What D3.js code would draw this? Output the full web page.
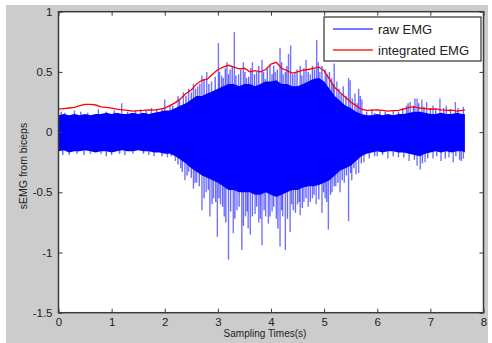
<!DOCTYPE html>
<html><head><meta charset="utf-8">
<script src="https://cdnjs.cloudflare.com/ajax/libs/d3/7.8.5/d3.min.js"></script>
<style>html,body{margin:0;padding:0;background:#fff;}svg{display:block;}</style>
</head><body>
<script>
// ---------- data ----------
const xTicks = [0,1,2,3,4,5,6,7,8];
const yTicks = [1,0.5,0,-0.5,-1,-1.5];
const yTickLabels = ["1","0.5","0","-0.5","-1","-1.5"];
const seriesNames = ["raw EMG","integrated EMG"];

// integrated EMG (red)
const iemgT = [0,0.1,0.2,0.3,0.4,0.5,0.6,0.7,0.8,0.9,1.0,1.1,1.2,1.3,1.4,1.5,1.6,1.7,1.8,1.9,2.0,2.1,2.2,2.3,2.4,2.5,2.6,2.7,2.8,2.9,3.0,3.1,3.2,3.3,3.4,3.5,3.6,3.7,3.8,3.9,4.0,4.1,4.2,4.3,4.4,4.5,4.6,4.7,4.8,4.9,5.0,5.1,5.2,5.3,5.4,5.5,5.6,5.7,5.8,5.9,6.0,6.1,6.2,6.3,6.4,6.5,6.6,6.7,6.8,6.9,7.0,7.1,7.2,7.3,7.4,7.5,7.6,7.65];
const iemgV = [0.19,0.195,0.20,0.205,0.22,0.23,0.23,0.225,0.21,0.205,0.20,0.19,0.185,0.18,0.175,0.178,0.18,0.185,0.182,0.19,0.20,0.22,0.245,0.28,0.32,0.35,0.40,0.43,0.44,0.48,0.52,0.54,0.555,0.54,0.525,0.53,0.50,0.51,0.50,0.52,0.565,0.58,0.53,0.51,0.49,0.50,0.515,0.52,0.53,0.54,0.51,0.44,0.37,0.33,0.29,0.25,0.22,0.19,0.18,0.183,0.185,0.18,0.175,0.178,0.18,0.19,0.205,0.21,0.20,0.195,0.19,0.192,0.185,0.18,0.182,0.175,0.18,0.185];

// raw EMG: dense core envelope (upper / lower) sampled every 0.1 s
const rawT = iemgT;
const rawUpper = [0.14,0.15,0.14,0.15,0.14,0.15,0.14,0.15,0.15,0.16,0.15,0.16,0.15,0.15,0.16,0.15,0.16,0.15,0.16,0.17,0.18,0.18,0.20,0.22,0.24,0.27,0.30,0.30,0.32,0.34,0.36,0.38,0.40,0.40,0.38,0.40,0.40,0.38,0.40,0.42,0.42,0.43,0.40,0.40,0.38,0.38,0.40,0.42,0.44,0.45,0.42,0.36,0.30,0.26,0.22,0.20,0.17,0.15,0.14,0.14,0.15,0.14,0.15,0.14,0.15,0.15,0.16,0.17,0.17,0.16,0.15,0.15,0.16,0.15,0.15,0.16,0.15,0.15];
const rawLower = [-0.16,-0.15,-0.17,-0.16,-0.16,-0.15,-0.16,-0.17,-0.16,-0.16,-0.17,-0.16,-0.15,-0.16,-0.16,-0.15,-0.16,-0.16,-0.17,-0.17,-0.18,-0.18,-0.20,-0.23,-0.26,-0.30,-0.33,-0.36,-0.38,-0.40,-0.42,-0.45,-0.48,-0.48,-0.50,-0.50,-0.50,-0.52,-0.52,-0.50,-0.52,-0.54,-0.52,-0.50,-0.48,-0.48,-0.46,-0.45,-0.45,-0.44,-0.42,-0.40,-0.36,-0.32,-0.30,-0.28,-0.24,-0.20,-0.18,-0.17,-0.16,-0.17,-0.16,-0.16,-0.17,-0.17,-0.18,-0.19,-0.20,-0.18,-0.17,-0.16,-0.17,-0.16,-0.17,-0.16,-0.16,-0.17];

// raw EMG: large individual spikes beyond the dense core
const spikeT = [0.3,0.75,1.19,1.55,1.75,2.0,2.1,2.25,2.35,2.45,2.54,2.62,
  2.70,2.79,2.88,3.01,3.07,3.17,3.23,3.31,3.39,3.48,3.54,3.65,3.73,3.83,3.89,3.98,4.08,4.17,4.23,4.33,4.37,4.45,4.55,4.66,4.74,4.86,4.92,5.02,5.14,5.19,5.24,5.36,
  5.46,5.49,5.58,5.65,5.71,5.9,6.05,6.3,6.55,6.62,6.71,6.75,6.84,6.93,7.05,7.18,7.3,7.47,7.62,
  0.2,0.6,1.0,1.4,1.8,2.05,2.2,2.3,2.38,2.45,2.54,2.6,2.7,2.78,2.85,2.92,2.99,3.05,3.12,3.2,3.29,3.36,3.45,3.52,3.57,3.61,3.7,3.77,3.83,3.9,3.95,4.02,4.1,4.17,4.22,4.27,4.36,4.42,4.5,4.55,4.62,4.70,4.78,4.85,4.96,5.02,5.08,5.15,5.22,5.3,5.38,5.46,5.52,5.6,5.65,5.75,5.85,6.0,6.2,6.4,6.6,6.75,6.81,6.9,7.05,7.2,7.35,7.43,7.55,7.62];
const spikeV = [0.18,0.19,0.24,0.19,0.20,0.27,0.23,0.30,0.33,0.36,0.40,0.38,
  0.47,0.50,0.42,0.74,0.47,0.58,0.52,0.83,0.48,0.58,0.45,0.58,0.50,0.60,0.44,0.56,0.50,0.70,0.48,0.65,0.72,0.50,0.55,0.60,0.48,0.765,0.50,0.52,0.45,0.57,0.42,0.38,
  0.45,0.43,0.32,0.36,0.27,0.19,0.18,0.18,0.22,0.25,0.28,0.28,0.27,0.25,0.22,0.28,0.22,0.25,0.21,
  -0.19,-0.18,-0.19,-0.18,-0.20,-0.21,-0.24,-0.30,-0.40,-0.33,-0.47,-0.42,-0.65,-0.50,-0.70,-0.55,-0.87,-0.60,-0.70,-1.06,-0.84,-0.65,-0.98,-0.70,-0.80,-0.85,-0.68,-0.75,-0.94,-0.70,-0.76,-0.66,-0.72,-0.95,-0.70,-0.98,-0.83,-0.65,-0.60,-0.69,-0.58,-0.62,-0.55,-0.60,-0.67,-0.55,-0.81,-0.50,-0.45,-0.50,-0.42,-0.74,-0.40,-0.35,-0.34,-0.25,-0.22,-0.20,-0.22,-0.21,-0.24,-0.28,-0.31,-0.25,-0.22,-0.24,-0.21,-0.25,-0.23,-0.22];

// raw EMG: smaller spikes that roughen the edge of the core
const minorT = [0.05,0.12,0.42,0.55,0.9,1.05,1.3,1.45,1.65,1.85,1.95,2.15,2.28,2.4,2.5,2.58,2.66,2.74,2.83,2.95,3.03,3.10,3.14,3.20,3.27,3.34,3.43,3.51,3.58,3.62,3.69,3.77,3.86,3.93,4.02,4.05,4.12,4.20,4.27,4.30,4.41,4.49,4.58,4.62,4.70,4.78,4.82,4.89,4.96,5.05,5.10,5.17,5.28,5.32,5.41,5.53,5.62,5.68,5.8,5.95,6.15,6.4,6.48,6.58,6.68,6.78,6.88,7.0,7.1,7.25,7.38,7.52,
  0.08,0.35,0.48,0.8,0.9,1.15,1.25,1.6,1.7,1.95,2.12,2.25,2.33,2.42,2.5,2.57,2.65,2.74,2.82,2.89,2.96,3.02,3.09,3.15,3.24,3.32,3.40,3.48,3.55,3.65,3.73,3.80,3.87,3.98,4.05,4.13,4.20,4.31,4.39,4.46,4.53,4.59,4.66,4.74,4.81,4.90,4.99,5.05,5.12,5.19,5.26,5.34,5.42,5.5,5.56,5.7,5.95,6.1,6.3,6.5,6.7,6.85,6.95,7.12,7.28,7.48,7.58];
const minorV = [0.17,0.16,0.17,0.16,0.17,0.18,0.17,0.18,0.18,0.19,0.20,0.22,0.27,0.30,0.33,0.36,0.40,0.44,0.40,0.46,0.50,0.45,0.53,0.48,0.55,0.47,0.52,0.50,0.46,0.53,0.48,0.55,0.50,0.53,0.48,0.55,0.52,0.58,0.50,0.55,0.48,0.52,0.47,0.53,0.50,0.55,0.52,0.58,0.55,0.48,0.50,0.40,0.36,0.32,0.30,0.28,0.24,0.30,0.17,0.16,0.17,0.17,0.20,0.24,0.22,0.24,0.21,0.20,0.19,0.20,0.19,0.20,
  -0.19,-0.18,-0.19,-0.18,-0.20,-0.18,-0.19,-0.18,-0.19,-0.20,-0.20,-0.27,-0.33,-0.36,-0.38,-0.42,-0.45,-0.55,-0.48,-0.60,-0.58,-0.55,-0.62,-0.75,-0.66,-0.72,-0.62,-0.78,-0.66,-0.70,-0.62,-0.72,-0.65,-0.70,-0.62,-0.80,-0.65,-0.72,-0.60,-0.67,-0.58,-0.63,-0.55,-0.58,-0.52,-0.56,-0.50,-0.58,-0.52,-0.45,-0.42,-0.40,-0.36,-0.34,-0.30,-0.26,-0.20,-0.19,-0.20,-0.21,-0.23,-0.26,-0.22,-0.20,-0.22,-0.20,-0.24];

// ---------- drawing ----------
const W = 492, H = 343;
const svg = d3.select("body").append("svg").attr("width", W).attr("height", H);
const font = "'Liberation Sans', Arial, sans-serif";

svg.append("rect").attr("x",6).attr("y",5).attr("width",482).attr("height",338).attr("fill","#cccccc");

const x = d3.scaleLinear().domain([0,8]).range([58.5,483.5]);
const y = d3.scaleLinear().domain([-1.5,1]).range([312.7,11.7]);

svg.append("rect").attr("x",x(0)).attr("y",y(1)).attr("width",x(8)-x(0)).attr("height",y(-1.5)-y(1)).attr("fill","#fff");

const plot = svg.append("g");

function drawSpikes(ts, vs, cls, op, w){
  plot.selectAll("line."+cls).data(ts.map((t,i)=>({t, v: vs[i]}))).join("line")
    .attr("class",cls)
    .attr("x1", d=>x(d.t)).attr("x2", d=>x(d.t))
    .attr("y1", y(0)).attr("y2", d=>y(d.v))
    .attr("stroke","#0000ff").attr("stroke-opacity",op).attr("stroke-width",w);
}
drawSpikes(spikeT, spikeV, "spike", 0.55, 1.4);
drawSpikes(minorT, minorV, "minor", 0.6, 1.4);

// dense core
const core = rawT.map((t,i)=>({t, hi: rawUpper[i], lo: rawLower[i]}));
plot.append("path").datum(core)
  .attr("d", d3.area().x(d=>x(d.t)).y0(d=>y(d.lo)).y1(d=>y(d.hi)))
  .attr("fill","#0000ff");

// integrated EMG
plot.append("path").datum(iemgT.map((t,i)=>({t, v: iemgV[i]})))
  .attr("d", d3.line().x(d=>x(d.t)).y(d=>y(d.v)))
  .attr("fill","none").attr("stroke","#ff0000").attr("stroke-width",1.3);

// axes
const axisColor = "#3a3a3a";
function styleAxis(g, showLabels){
  g.select(".domain").remove();
  g.selectAll(".tick line").attr("stroke",axisColor).attr("stroke-width",1);
  g.selectAll(".tick text").attr("fill","#222").style("font-family",font).style("font-size","11.5px");
  if(!showLabels) g.selectAll(".tick text").remove();
}
svg.append("g").attr("transform",`translate(0,${y(-1.5)})`)
  .call(d3.axisBottom(x).tickValues(xTicks).tickSize(-4).tickPadding(5).tickFormat(d3.format("d")))
  .call(g=>styleAxis(g,true));
svg.append("g").attr("transform",`translate(0,${y(1)})`)
  .call(d3.axisTop(x).tickValues(xTicks).tickSize(-4))
  .call(g=>styleAxis(g,false));
svg.append("g").attr("transform",`translate(${x(0)},0)`)
  .call(d3.axisLeft(y).tickValues(yTicks).tickSize(-4).tickPadding(6).tickFormat((d,i)=>yTickLabels[i]))
  .call(g=>styleAxis(g,true));
svg.append("g").attr("transform",`translate(${x(8)},0)`)
  .call(d3.axisRight(y).tickValues(yTicks).tickSize(-4))
  .call(g=>styleAxis(g,false));

svg.append("rect").attr("x",x(0)).attr("y",y(1)).attr("width",x(8)-x(0)).attr("height",y(-1.5)-y(1))
  .attr("fill","none").attr("stroke",axisColor).attr("stroke-width",1.5);

// axis titles
svg.append("text").attr("x",265).attr("y",337).attr("text-anchor","middle")
  .style("font-family",font).style("font-size","10px").attr("fill","#222").text("Sampling Times(s)");
svg.append("text").attr("transform","translate(27,166) rotate(-90)").attr("text-anchor","middle")
  .style("font-family",font).style("font-size","10.5px").attr("fill","#222").text("sEMG from biceps");

// legend
const lg = svg.append("g");
lg.append("rect").attr("x",324).attr("y",17).attr("width",157).attr("height",44)
  .attr("fill","#fff").attr("stroke","#333").attr("stroke-width",1.2);
const legColors = ["#0000ff","#ff0000"];
const legY = [29,50];
seriesNames.forEach((n,i)=>{
  lg.append("line").attr("x1",333).attr("x2",373).attr("y1",legY[i]).attr("y2",legY[i])
    .attr("stroke",legColors[i]).attr("stroke-width",1.4).attr("stroke-opacity", i===0?0.7:0.85);
  lg.append("text").attr("x",378).attr("y",legY[i]+4.5)
    .style("font-family",font).style("font-size","13px").attr("fill","#222").text(n);
});
</script>
</body></html>
